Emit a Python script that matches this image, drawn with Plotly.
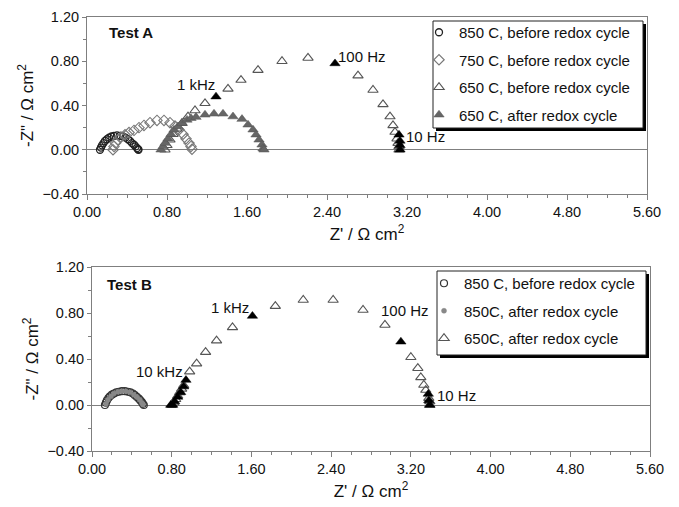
import plotly.graph_objects as go

# ---------------- Test A data ----------------
a850_x = [0.13, 0.14, 0.15, 0.165, 0.18, 0.20, 0.22, 0.245, 0.27, 0.30, 0.33, 0.36, 0.385, 0.41, 0.43, 0.45, 0.47, 0.485, 0.50, 0.51, 0.515]
a850_y = [0.00, 0.02, 0.04, 0.06, 0.08, 0.095, 0.11, 0.12, 0.125, 0.13, 0.125, 0.12, 0.11, 0.095, 0.08, 0.06, 0.045, 0.03, 0.015, 0.005, 0.0]

a750_x = [0.26, 0.27, 0.285, 0.31, 0.34, 0.38, 0.42, 0.47, 0.52, 0.57, 0.63, 0.70, 0.77, 0.83, 0.88, 0.92, 0.96, 0.99, 1.02, 1.04, 1.05]
a750_y = [0.00, 0.03, 0.06, 0.09, 0.115, 0.135, 0.155, 0.175, 0.20, 0.22, 0.245, 0.265, 0.265, 0.245, 0.215, 0.18, 0.14, 0.10, 0.06, 0.03, 0.005]

a650b_x = [0.78, 0.80, 0.83, 0.86, 0.90, 0.95, 1.01, 1.08, 1.18, 1.41, 1.54, 1.71, 1.95, 2.21, 2.71, 2.86, 2.96, 3.03, 3.06, 3.08, 3.10, 3.11, 3.12, 3.12]
a650b_y = [0.00, 0.04, 0.09, 0.14, 0.19, 0.24, 0.30, 0.355, 0.42, 0.55, 0.63, 0.72, 0.80, 0.83, 0.67, 0.54, 0.41, 0.30, 0.22, 0.16, 0.10, 0.06, 0.03, 0.0]

a650a_x = [0.74, 0.76, 0.78, 0.81, 0.84, 0.87, 0.91, 0.95, 1.00, 1.04, 1.09, 1.18, 1.27, 1.36, 1.46, 1.55, 1.61, 1.66, 1.69, 1.72, 1.75, 1.76, 1.77]
a650a_y = [0.00, 0.03, 0.06, 0.10, 0.14, 0.18, 0.21, 0.24, 0.27, 0.285, 0.295, 0.316, 0.325, 0.325, 0.30, 0.277, 0.226, 0.181, 0.136, 0.09, 0.045, 0.01, 0.0]

a_freq_x = [1.29, 2.48, 3.12, 3.13, 3.13, 3.13]
a_freq_y = [0.48, 0.78, 0.135, 0.08, 0.04, 0.0]

# ---------------- Test B data ----------------
b850b_x = [0.13, 0.14, 0.15, 0.165, 0.18, 0.20, 0.22, 0.245, 0.27, 0.30, 0.33, 0.36, 0.385, 0.41, 0.43, 0.45, 0.47, 0.485, 0.50, 0.51, 0.52]
b850b_y = [0.00, 0.02, 0.04, 0.06, 0.075, 0.09, 0.10, 0.11, 0.115, 0.12, 0.12, 0.115, 0.11, 0.10, 0.085, 0.07, 0.055, 0.04, 0.025, 0.01, 0.0]

b850a_x = [0.14, 0.16, 0.19, 0.22, 0.26, 0.30, 0.34, 0.38, 0.42, 0.45, 0.48, 0.50, 0.51]
b850a_y = [0.01, 0.045, 0.075, 0.10, 0.115, 0.12, 0.12, 0.11, 0.09, 0.07, 0.045, 0.02, 0.005]

b650a_x = [0.80, 0.82, 0.84, 0.86, 0.88, 0.90, 0.92, 0.98, 1.05, 1.14, 1.25, 1.41, 1.84, 2.12, 2.42, 2.72, 2.94, 3.20, 3.27, 3.30, 3.33, 3.35, 3.38, 3.39, 3.39]
b650a_y = [0.00, 0.02, 0.05, 0.08, 0.11, 0.14, 0.17, 0.29, 0.36, 0.46, 0.56, 0.675, 0.86, 0.913, 0.913, 0.826, 0.696, 0.415, 0.32, 0.24, 0.174, 0.13, 0.06, 0.03, 0.0]

b_freq_x = [0.79, 0.81, 0.83, 0.86, 0.89, 0.92, 0.943, 1.61, 3.10, 3.375, 3.38, 3.39]
b_freq_y = [0.0, 0.0, 0.03, 0.07, 0.11, 0.16, 0.217, 0.774, 0.55, 0.096, 0.04, 0.0]

x_ticks = [0.0, 0.8, 1.6, 2.4, 3.2, 4.0, 4.8, 5.6]
y_ticks = [-0.4, 0.0, 0.4, 0.8, 1.2]

FONT = "Liberation Sans, Arial, sans-serif"
AX = "#7f7f7f"

fig = go.Figure()

def add(x, y, name, symbol, size, color, fill, lw, xa, ya, legend, show=True):
    fig.add_trace(go.Scatter(
        x=x, y=y, mode="markers", name=name, showlegend=show,
        legend=legend, legendgroup=name + legend,
        xaxis=xa, yaxis=ya,
        marker=dict(symbol=symbol, size=size, color=fill,
                    line=dict(color=color, width=lw)),
    ))

# Top
add(a850_x, a850_y, "850 C, before redox cycle", "circle-open", 7, "#222", "#222", 1.3, "x", "y", "legend")
add(a750_x, a750_y, "750 C, before redox cycle", "diamond-open", 8, "#777", "#777", 1.1, "x", "y", "legend")
add(a650b_x, a650b_y, "650 C, before redox cycle", "triangle-up-open", 9, "#555", "#555", 1.1, "x", "y", "legend")
add(a650a_x, a650a_y, "650 C, after redox cycle", "triangle-up", 9, "#555", "#666", 0.5, "x", "y", "legend")
add(a_freq_x, a_freq_y, "freqA", "triangle-up", 9, "#000", "#000", 0.5, "x", "y", "legend", show=False)

# Bottom
add(b850b_x, b850b_y, "850 C, before redox cycle", "circle-open", 7, "#333", "#333", 1.2, "x2", "y2", "legend2")
add(b850a_x, b850a_y, "850C, after redox cycle", "circle", 5, "#888", "#888", 0.5, "x2", "y2", "legend2")
add(b650a_x, b650a_y, "650C, after redox cycle", "triangle-up-open", 9, "#555", "#555", 1.1, "x2", "y2", "legend2")
add(b_freq_x, b_freq_y, "freqB", "triangle-up", 9, "#000", "#000", 0.5, "x2", "y2", "legend2", show=False)

W, H = 679, 507

def xaxis(dom, anchor):
    return dict(domain=dom, anchor=anchor, range=[0, 5.6], tickvals=x_ticks,
                tickformat=".2f", ticks="outside", ticklen=5, tickcolor=AX,
                showline=True, linecolor=AX, linewidth=1, mirror=True,
                showgrid=False, zeroline=False, automargin=False,
                minor=dict(dtick=0.2, ticks="outside", ticklen=3, tickcolor=AX),
                tickfont=dict(size=14.5, color="#111", family=FONT),
                title=dict(text="Z' / Ω cm<sup>2</sup>", font=dict(size=17, color="#111", family=FONT), standoff=8))

def yaxis(dom, anchor):
    return dict(domain=dom, anchor=anchor, range=[-0.4, 1.2], tickvals=y_ticks,
                tickformat=".2f", ticks="outside", ticklen=4, tickcolor=AX,
                showline=True, linecolor=AX, linewidth=1, mirror=True,
                showgrid=False, zeroline=True, zerolinecolor=AX, zerolinewidth=1,
                automargin=False,
                minor=dict(dtick=0.2, ticks="outside", ticklen=3, tickcolor=AX),
                tickfont=dict(size=14.5, color="#111", family=FONT),
                title=dict(text="-Z\" / Ω cm<sup>2</sup>", font=dict(size=17, color="#111", family=FONT), standoff=4))

top_x = [87 / W, 647 / W]
top_y = [1 - 194 / H, 1 - 17 / H]
bot_x = [92 / W, 650 / W]
bot_y = [1 - 451 / H, 1 - 267 / H]

legstyle = dict(bgcolor="rgba(0,0,0,0)", borderwidth=0,
                font=dict(size=15, color="#111", family=FONT),
                xanchor="left", yanchor="top", tracegroupgap=5, itemwidth=30)

fig.update_layout(
    width=W, height=H, margin=dict(l=0, r=0, t=0, b=0),
    paper_bgcolor="white", plot_bgcolor="white",
    font=dict(family=FONT, color="#111"),
    xaxis=xaxis(top_x, "y"), yaxis=yaxis(top_y, "x"),
    xaxis2=xaxis(bot_x, "y2"), yaxis2=yaxis(bot_y, "x2"),
    legend=dict(x=419 / W, y=1 - 16 / H, **legstyle),
    legend2=dict(x=424 / W, y=1 - 267 / H, **legstyle),
)

# legend boxes with drop shadows
for (bx0, by0, bx1, by1) in [(433, 21, 643, 128), (437, 271, 646, 355)]:
    fig.add_shape(type="rect", xref="paper", yref="paper", layer="above",
                  x0=(bx0 + 3) / W, x1=(bx1 + 3) / W, y0=1 - (by1 + 3) / H, y1=1 - (by0 + 3) / H,
                  fillcolor="#000", line=dict(width=0))
    fig.add_shape(type="rect", xref="paper", yref="paper", layer="above",
                  x0=bx0 / W, x1=bx1 / W, y0=1 - by1 / H, y1=1 - by0 / H,
                  fillcolor="white", line=dict(color="#222", width=1))

def ann(text, x, y, xr, yr, bold=False):
    fig.add_annotation(text=("<b>%s</b>" % text) if bold else text, x=x, y=y,
                       xref=xr, yref=yr, showarrow=False,
                       font=dict(size=15, color="#111", family=FONT))

ann("Test A", 0.44, 1.06, "x", "y", bold=True)
ann("1 kHz", 1.09, 0.59, "x", "y")
ann("100 Hz", 2.75, 0.84, "x", "y")
ann("10 Hz", 3.38, 0.12, "x", "y")

ann("Test B", 0.38, 1.05, "x2", "y2", bold=True)
ann("1 kHz", 1.38, 0.85, "x2", "y2")
ann("10 kHz", 0.677, 0.29, "x2", "y2")
ann("100 Hz", 3.14, 0.826, "x2", "y2")
ann("10 Hz", 3.66, 0.08, "x2", "y2")

fig.write_html("out.html")
